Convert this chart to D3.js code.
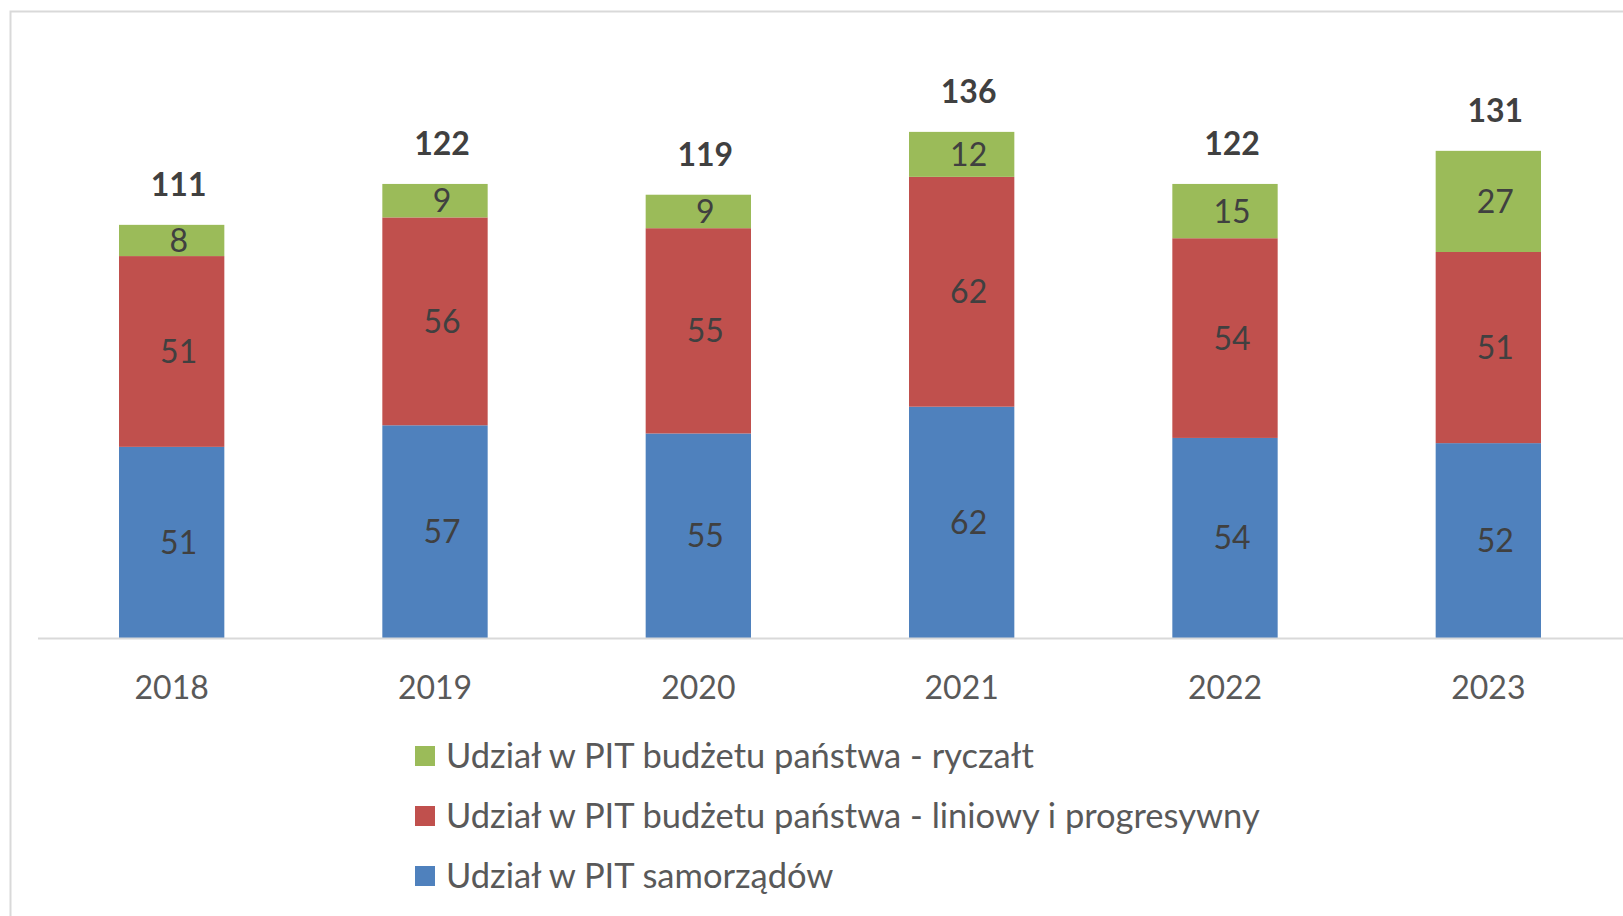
<!DOCTYPE html>
<html>
<head>
<meta charset="utf-8">
<script src="https://cdn.jsdelivr.net/npm/d3@7"></script>
<style>
  body { margin: 0; background: #fff; }
  text { font-family: Lato, "Open Sans", sans-serif; }
</style>
</head>
<body>
<div id="chart"></div>
<script>
// lata i serie (mld zł)
var years = ["2018", "2019", "2020", "2021", "2022", "2023"];
var samorzady = [51.4, 57.2, 55.0, 62.2, 53.8, 52.4];
var liniowy = [51.3, 55.9, 55.2, 61.8, 53.7, 51.4];
var ryczalt = [8.4, 9.0, 9.0, 12.1, 14.6, 27.2];

var seriesNames = [
    "Udział w PIT samorządów",
    "Udział w PIT budżetu państwa - liniowy i progresywny",
    "Udział w PIT budżetu państwa - ryczałt"
];
var seriesKeys = ["sam", "lin", "ryc"];
var colors = ["#4F81BD", "#C0504D", "#9BBB59"];

var dataset = years.map(function(y, i) {
    return { year: y, sam: samorzady[i], lin: liniowy[i], ryc: ryczalt[i] };
});

var width = 1623;
var height = 916;
var axisY = 638;
var plotTop = 43;

var svg = d3.select("#chart").append("svg")
    .attr("width", width)
    .attr("height", height);

// ramka
svg.append("path")
    .attr("d", "M10.5," + height + " V11.5 H" + width)
    .attr("fill", "none")
    .attr("stroke", "#d9d9d9")
    .attr("stroke-width", 2);

var xScale = d3.scaleBand()
    .domain(years)
    .range([40, 1620])
    .paddingInner(0.6)
    .paddingOuter(0.3);

var yScale = d3.scaleLinear()
    .domain([0, 160])
    .range([axisY, plotTop]);

var stack = d3.stack().keys(seriesKeys);
var stacked = stack(dataset);

var layers = svg.selectAll(".layer")
    .data(stacked)
    .enter()
    .append("g")
        .attr("class", "layer")
        .attr("fill", function(d, i) { return colors[i]; });

layers.selectAll("rect")
    .data(function(d) { return d; })
    .enter()
    .append("rect")
        .attr("x", function(d) { return xScale(d.data.year); })
        .attr("y", function(d) { return yScale(d[1]); })
        .attr("width", xScale.bandwidth())
        .attr("height", function(d) { return yScale(d[0]) - yScale(d[1]); });

// etykiety segmentow
layers.selectAll("text")
    .data(function(d) { return d; })
    .enter()
    .append("text")
        .attr("x", function(d) { return xScale(d.data.year) + xScale.bandwidth() / 2 + 7; })
        .attr("y", function(d) { return (yScale(d[0]) + yScale(d[1])) / 2; })
        .attr("dy", "0.36em")
        .attr("text-anchor", "middle")
        .attr("fill", "#404040")
        .style("font-size", "32px")
        .text(function(d) { return Math.round(d[1] - d[0]); });

// sumy
svg.selectAll(".total")
    .data(dataset)
    .enter()
    .append("text")
        .attr("class", "total")
        .attr("x", function(d) { return xScale(d.year) + xScale.bandwidth() / 2 + 7; })
        .attr("y", function(d) { return yScale(d.sam + d.lin + d.ryc) - 29; })
        .attr("text-anchor", "middle")
        .attr("fill", "#404040")
        .style("font-size", "32px")
        .style("font-weight", "bold")
        .text(function(d) { return Math.round(d.sam + d.lin + d.ryc); });

// os X
var xAxis = d3.axisBottom(xScale).tickSize(0).tickPadding(38);
var gx = svg.append("g")
    .attr("transform", "translate(0," + axisY + ")")
    .call(xAxis);
gx.select(".domain").remove();
gx.append("line")
    .attr("x1", 38).attr("x2", width)
    .attr("y1", 0.5).attr("y2", 0.5)
    .attr("stroke", "#d9d9d9")
    .attr("stroke-width", 2);
gx.selectAll("text")
    .attr("fill", "#595959")
    .style("font-size", "32px")
    .style("font-family", "Lato, 'Open Sans', sans-serif");

// legenda
var legendOrder = [2, 1, 0];
var legend = svg.selectAll(".legend")
    .data(legendOrder)
    .enter()
    .append("g")
        .attr("class", "legend")
        .attr("transform", function(d, i) { return "translate(415," + (756 + i * 60) + ")"; });

legend.append("rect")
    .attr("x", 0)
    .attr("y", -10)
    .attr("width", 20)
    .attr("height", 20)
    .attr("fill", function(d) { return colors[d]; });

legend.append("text")
    .attr("x", 31)
    .attr("y", 0)
    .attr("dy", "0.36em")
    .attr("fill", "#595959")
    .style("font-size", "34.5px")
    .text(function(d) { return seriesNames[d]; });
</script>
</body>
</html>
